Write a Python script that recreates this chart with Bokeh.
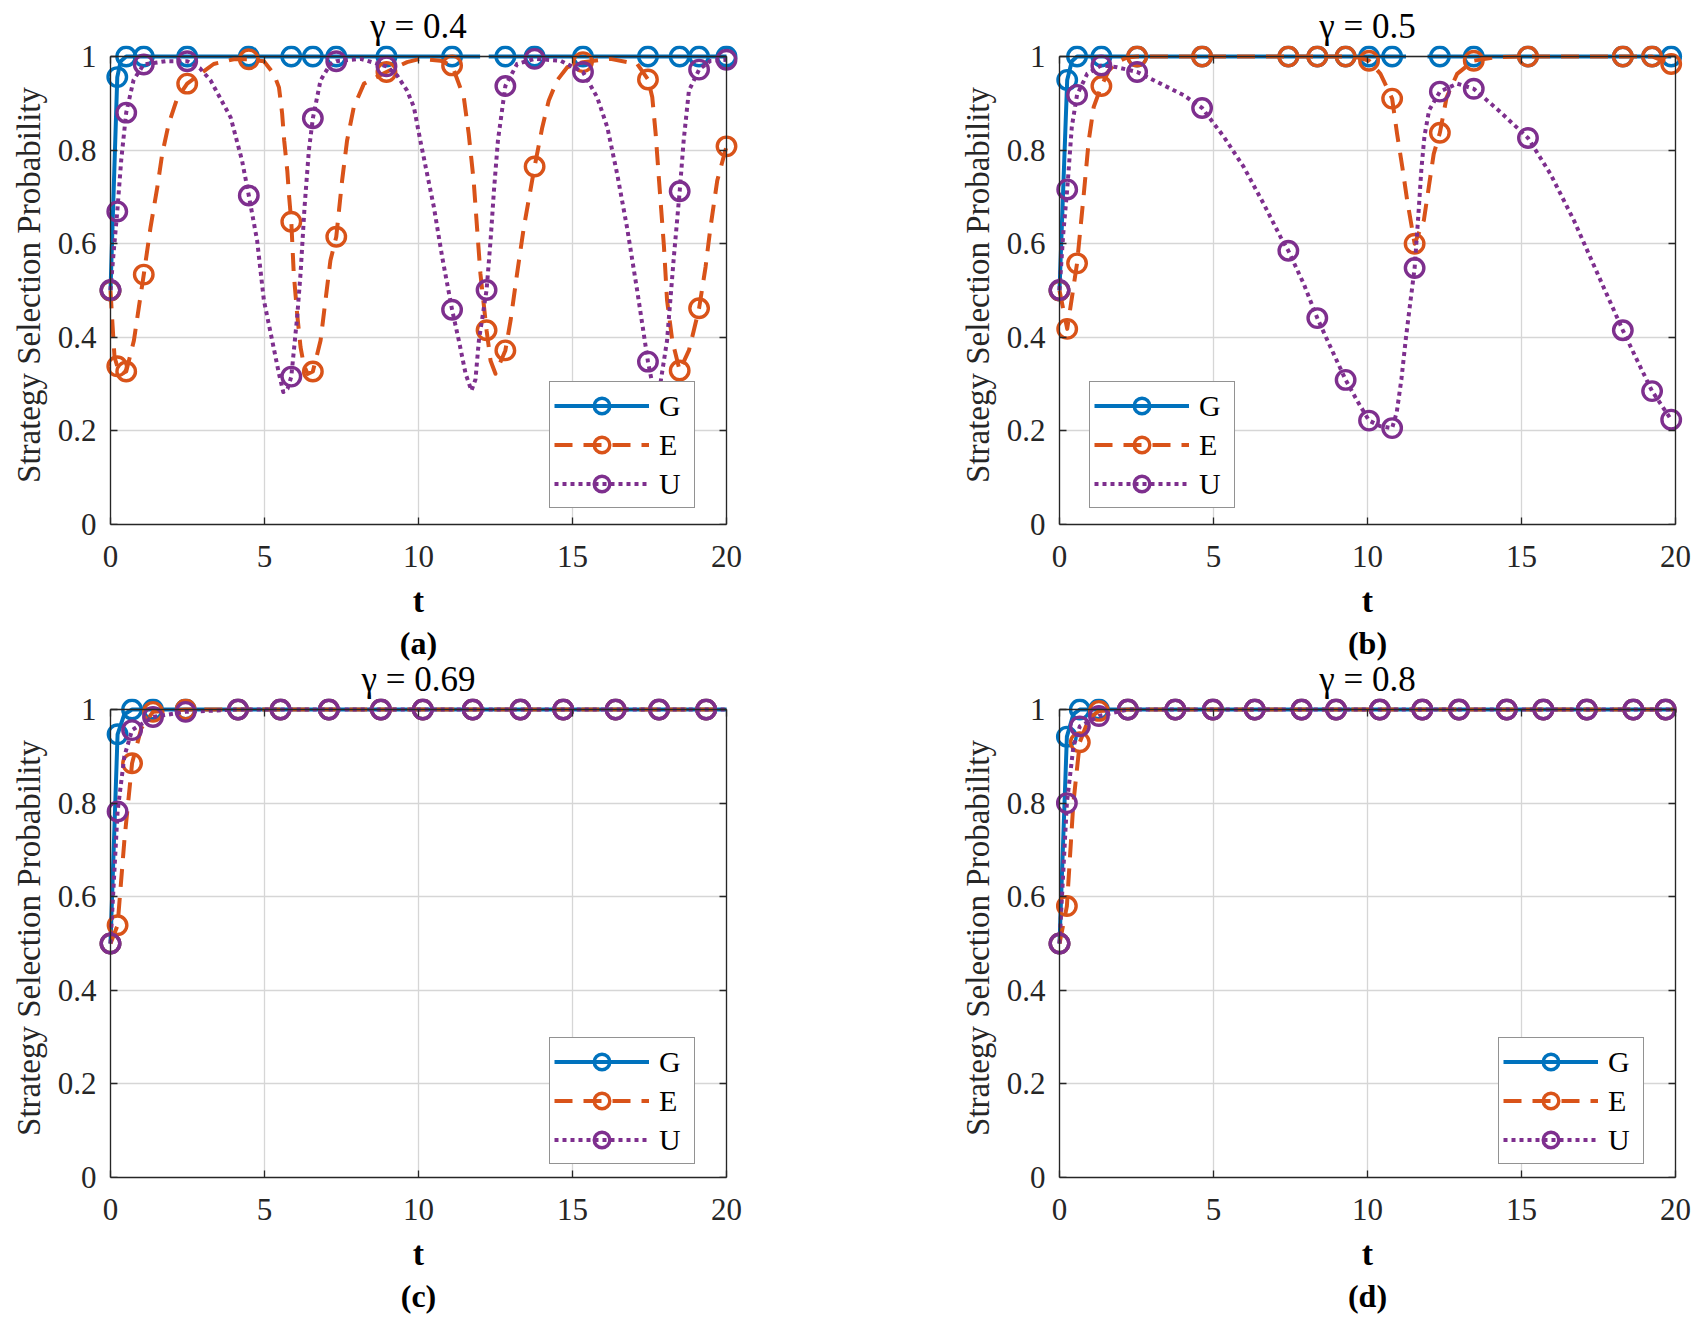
from bokeh.plotting import figure
from bokeh.models import (Range1d, LinearAxis, FixedTicker, CustomJSTickFormatter,
                          Legend, LegendItem, Title)
from bokeh.layouts import column, row
from bokeh.embed import file_html
from bokeh.resources import INLINE

NAN = float("nan")

# ---------------- data ----------------
SERIES = ["G", "E", "U"]
TITLES = ["γ = 0.4", "γ = 0.5", "γ = 0.69", "γ = 0.8"]
TAGS = ["(a)", "(b)", "(c)", "(d)"]
X_TICKS = [0, 5, 10, 15, 20]
Y_TICKS = [0, 0.2, 0.4, 0.6, 0.8, 1]
X_LABEL = "t"
Y_LABEL = "Strategy Selection Probability"

# panel (a)  gamma = 0.4
A_MARK_T = [0, 0.22, 0.51, 1.08, 2.49, 4.49, 5.87, 6.57, 7.33, 8.96, 11.09, 12.21, 12.82, 13.77, 15.34, 17.45, 18.48, 19.11, 20.0]
A_G_MARK = [0.5, 0.956, 1.0, 1.0, 1.0, 1.0, 1.0, 1.0, 1.0, 1.0, 1.0, NAN, 1.0, 1.0, 1.0, 1.0, 1.0, 1.0, 1.0]
A_E_MARK = [0.5, 0.338, 0.327, 0.534, 0.942, 0.994, 0.647, 0.327, 0.615, 0.967, 0.981, 0.415, 0.372, 0.765, 0.988, 0.951, 0.329, 0.462, 0.808]
A_U_MARK = [0.501, 0.669, 0.880, 0.983, 0.990, 0.703, 0.316, 0.868, 0.990, 0.979, 0.459, 0.501, 0.937, 0.995, 0.967, 0.348, 0.712, 0.972, 0.993]

A_G_T = [0, 0.22, 0.33, 0.51, 12.0, NAN, 12.28, 20.0]
A_G_V = [0.5, 0.956, 0.99, 1.0, 1.0, NAN, 1.0, 1.0]
A_E_T = [0, 0.05, 0.13, 0.22, 0.35, 0.51, 0.76, 0.92, 1.08, 1.30, 1.52, 1.68, 1.89, 2.16, 2.49, 2.92, 3.35, 4.0, 4.49,
         4.98, 5.30, 5.47, 5.57, 5.64, 5.74, 5.80, 5.87, 5.95, 6.06, 6.17, 6.28, 6.40, 6.57, 6.82, 6.98, 7.14, 7.33,
         7.52, 7.68, 7.90, 8.23, 8.96, 9.63, 10.06, 10.71, 11.09, 11.47, 11.63, 11.79, 11.90, 12.01, 12.21, 12.34,
         12.50, 12.82, 12.99, 13.20, 13.42, 13.77, 14.02, 14.23, 14.50, 14.83, 15.34, 16.23, 17.10, 17.45, 17.59,
         17.70, 17.81, 17.97, 18.07, 18.24, 18.48, 18.78, 18.94, 19.11, 19.32, 19.48, 19.70, 20.0]
A_E_V = [0.5, 0.443, 0.358, 0.338, 0.322, 0.327, 0.393, 0.464, 0.534, 0.635, 0.721, 0.792, 0.856, 0.910, 0.942, 0.963,
         0.984, 0.994, 0.994, 0.990, 0.963, 0.934, 0.880, 0.820, 0.756, 0.700, 0.647, 0.536, 0.450, 0.379, 0.340,
         0.322, 0.327, 0.393, 0.479, 0.564, 0.615, 0.735, 0.820, 0.892, 0.942, 0.967, 0.988, 0.995, 0.991, 0.981,
         0.913, 0.835, 0.735, 0.635, 0.536, 0.415, 0.350, 0.322, 0.372, 0.436, 0.536, 0.635, 0.765, 0.849, 0.906,
         0.949, 0.977, 0.988, 0.995, 0.984, 0.951, 0.913, 0.835, 0.735, 0.593, 0.479, 0.393, 0.329, 0.372, 0.415,
         0.462, 0.550, 0.635, 0.735, 0.808]
A_U_T = [0, 0.10, 0.22, 0.35, 0.51, 0.75, 1.08, 1.80, 2.49, 2.90, 3.25, 3.90, 4.27, 4.49, 4.76, 4.98, 5.25, 5.47,
         5.61, 5.75, 5.87, 6.06, 6.17, 6.30, 6.44, 6.57, 6.82, 7.14, 7.33, 8.12, 8.96, 9.30, 9.63, 9.85, 10.06,
         10.28, 10.50, 10.77, 11.09, 11.31, 11.53, 11.72, 11.85, 11.96, 12.21, 12.34, 12.45, 12.58, 12.82, 13.20,
         13.77, 14.61, 15.34, 15.80, 16.13, 16.45, 16.77, 17.10, 17.45, 17.59, 17.70, 17.85, 18.07, 18.29, 18.48,
         18.61, 18.78, 19.11, 19.48, 20.0]
A_U_V = [0.501, 0.58, 0.669, 0.78, 0.880, 0.95, 0.983, 0.99, 0.990, 0.975, 0.949, 0.870, 0.778, 0.703, 0.607, 0.479,
         0.393, 0.322, 0.283, 0.290, 0.316, 0.443, 0.536, 0.678, 0.799, 0.868, 0.949, 0.984, 0.990, 0.995, 0.979,
         0.960, 0.927, 0.892, 0.820, 0.749, 0.678, 0.571, 0.459, 0.393, 0.322, 0.286, 0.310, 0.393, 0.501, 0.607,
         0.714, 0.821, 0.937, 0.984, 0.995, 0.991, 0.967, 0.913, 0.849, 0.749, 0.635, 0.500, 0.348, 0.301, 0.290,
         0.300, 0.393, 0.571, 0.712, 0.821, 0.927, 0.972, 0.991, 0.993]

# panel (b)  gamma = 0.5
B_MARK_T = [0, 0.25, 0.57, 1.36, 2.52, 4.63, 7.43, 8.37, 9.29, 10.05, 10.80, 11.53, 12.35, 13.45, 15.21, 18.29, 19.24, 19.86]
B_G_MARK = [0.5, 0.950, 1.0, 1.0, 1.0, 1.0, 1.0, 1.0, 1.0, 1.0, 1.0, NAN, 1.0, 1.0, 1.0, 1.0, 1.0, 1.0]
B_E_MARK = [0.5, 0.418, 0.558, 0.937, 1.0, 1.0, 1.0, 1.0, 1.0, 0.991, 0.910, 0.600, 0.837, 0.991, 1.0, 1.0, 1.0, 0.984]
B_U_MARK = [0.501, 0.716, 0.918, 0.981, 0.967, 0.890, 0.585, 0.441, 0.309, 0.222, 0.206, 0.548, 0.925, 0.931, 0.826, 0.415, 0.285, 0.224]

B_G_T = [0, 0.25, 0.40, 0.57, 11.25, NAN, 11.95, 19.86]
B_G_V = [0.5, 0.950, 0.99, 1.0, 1.0, NAN, 1.0, 1.0]
B_E_T = [0, 0.25, 0.57, 0.79, 0.95, 1.11, 1.36, 1.60, 1.87, 2.20, 2.52, 4.63, 7.43, 8.37, 9.29, 9.70, 10.05, 10.42,
         10.80, 10.96, 11.13, 11.29, 11.53, 11.83, 11.99, 12.15, 12.35, 12.57, 12.91, 13.45, 14.20, 15.21, 18.29,
         19.24, 19.86]
B_E_V = [0.5, 0.418, 0.558, 0.707, 0.821, 0.892, 0.937, 0.970, 0.988, 0.998, 1.0, 1.0, 1.0, 1.0, 1.0, 0.998, 0.991,
         0.963, 0.910, 0.835, 0.764, 0.692, 0.600, 0.650, 0.721, 0.792, 0.837, 0.913, 0.963, 0.991, 0.999, 1.0, 1.0,
         1.0, 0.984]
B_U_T = [0, 0.12, 0.25, 0.40, 0.57, 0.90, 1.36, 1.87, 2.52, 3.28, 4.04, 4.63, 5.34, 5.98, 6.63, 7.18, 7.43, 7.93,
         8.37, 8.80, 9.29, 9.66, 10.05, 10.42, 10.80, 10.95, 11.10, 11.25, 11.40, 11.53, 11.65, 11.75, 11.85, 12.00,
         12.35, 12.91, 13.45, 14.32, 15.21, 15.94, 16.70, 17.57, 18.29, 18.76, 19.24, 19.86]
B_U_V = [0.501, 0.62, 0.716, 0.85, 0.918, 0.963, 0.981, 0.977, 0.967, 0.942, 0.917, 0.890, 0.828, 0.764, 0.685,
         0.614, 0.585, 0.514, 0.441, 0.379, 0.309, 0.265, 0.222, 0.210, 0.206, 0.240, 0.310, 0.400, 0.480, 0.548,
         0.660, 0.760, 0.830, 0.885, 0.925, 0.942, 0.931, 0.881, 0.826, 0.749, 0.650, 0.521, 0.415, 0.350, 0.285,
         0.224]

# panel (c)  gamma = 0.69
C_MARK_T = [0, 0.23, 0.70, 1.38, 2.44, 4.14, 5.52, 7.09, 8.78, 10.14, 11.76, 13.31, 14.70, 16.40, 17.81, 19.34]
C_G_MARK = [0.5, 0.947, 1.0, 1.0, 1.0, 1.0, 1.0, 1.0, 1.0, 1.0, 1.0, 1.0, 1.0, 1.0, 1.0, 1.0]
C_E_MARK = [0.5, 0.539, 0.885, 0.995, 1.0, 1.0, 1.0, 1.0, 1.0, 1.0, 1.0, 1.0, 1.0, 1.0, 1.0, 1.0]
C_U_MARK = [0.5, 0.782, 0.956, 0.984, 0.995, 1.0, 1.0, 1.0, 1.0, 1.0, 1.0, 1.0, 1.0, 1.0, 1.0, 1.0]
C_G_T = [0, 0.23, 0.45, 0.70, 20.0]
C_G_V = [0.5, 0.947, 0.99, 1.0, 1.0]
C_E_T = [0, 0.23, 0.45, 0.70, 1.0, 1.38, 2.44, 20.0]
C_E_V = [0.5, 0.539, 0.72, 0.885, 0.96, 0.995, 1.0, 1.0]
C_U_T = [0, 0.23, 0.45, 0.70, 1.38, 2.44, 4.14, 20.0]
C_U_V = [0.5, 0.782, 0.90, 0.956, 0.984, 0.995, 1.0, 1.0]

# panel (d)  gamma = 0.8
D_MARK_T = [0, 0.24, 0.66, 1.28, 2.22, 3.76, 4.98, 6.34, 7.86, 8.98, 10.40, 11.78, 12.97, 14.52, 15.71, 17.12, 18.63, 19.68]
D_G_MARK = [0.5, 0.942, 1.0, 1.0, 1.0, 1.0, 1.0, 1.0, 1.0, 1.0, 1.0, 1.0, 1.0, 1.0, 1.0, 1.0, 1.0, 1.0]
D_E_MARK = [0.5, 0.580, 0.930, 0.997, 1.0, 1.0, 1.0, 1.0, 1.0, 1.0, 1.0, 1.0, 1.0, 1.0, 1.0, 1.0, 1.0, 1.0]
D_U_MARK = [0.5, 0.800, 0.964, 0.986, 1.0, 1.0, 1.0, 1.0, 1.0, 1.0, 1.0, 1.0, 1.0, 1.0, 1.0, 1.0, 1.0, 1.0]
D_G_T = [0, 0.24, 0.45, 0.66, 20.0]
D_G_V = [0.5, 0.942, 0.99, 1.0, 1.0]
D_E_T = [0, 0.24, 0.45, 0.66, 0.95, 1.28, 2.22, 20.0]
D_E_V = [0.5, 0.580, 0.80, 0.930, 0.98, 0.997, 1.0, 1.0]
D_U_T = [0, 0.24, 0.45, 0.66, 1.28, 2.22, 20.0]
D_U_V = [0.5, 0.800, 0.92, 0.964, 0.986, 1.0, 1.0]

# ---------------- styling ----------------
FONT = "Liberation Serif"
AX = "#262626"
GRID = "#d6d6d6"
COLORS = {"G": "#0072BD", "E": "#D95319", "U": "#7E2F8E"}
DASHES = {"G": "solid", "E": "18 11", "U": "4 4"}
PADX = 14                # px of room left/right of the box so edge markers are not cut
PADTOP = 11              # px of room above the box
BOX_W, BOX_H = 616, 468  # axes box size in px
XPAD = PADX * 20.0 / BOX_W
YPAD = PADTOP * 1.0 / BOX_H
FRAME_W = BOX_W + 2 * PADX
FRAME_H = BOX_H + PADTOP

EMPTY = CustomJSTickFormatter(code="return ''")
YFMT = CustomJSTickFormatter(code="return String(Math.round(tick*10)/10)")
XFMT = CustomJSTickFormatter(code="return String(Math.round(tick))")


def frame_axis(p, side, loc, bounds, ticks):
    ax = LinearAxis(fixed_location=loc, bounds=bounds, ticker=FixedTicker(ticks=ticks),
                    formatter=EMPTY, axis_line_color=AX, axis_line_width=1.3,
                    major_tick_in=7, major_tick_out=0, major_tick_line_color=AX, major_tick_line_width=1.3,
                    minor_tick_line_color=None, major_label_text_font_size="1px", major_label_standoff=0)
    p.add_layout(ax, side)


def build(i, data, fig_w, fig_h, b_left, b_right, b_top, leg_x, leg_y):
    p = figure(width=fig_w, height=fig_h, output_backend="svg", toolbar_location=None,
               x_range=Range1d(-XPAD, 20 + XPAD), y_range=Range1d(0, 1 + YPAD),
               min_border_left=b_left, min_border_right=b_right, min_border_top=b_top,
               min_border_bottom=fig_h - b_top - FRAME_H,
               title=TITLES[i])
    p.outline_line_color = None
    p.background_fill_color = "white"
    p.border_fill_color = None

    p.title.align = "center"
    p.title.text_font = FONT
    p.title.text_font_size = "35px"
    p.title.text_font_style = "normal"
    p.title.text_color = "black"
    p.title.standoff = 0

    xa = p.xaxis[0]
    xa.ticker = FixedTicker(ticks=X_TICKS)
    xa.formatter = XFMT
    xa.bounds = (0, 20)
    xa.axis_line_color = AX
    xa.axis_line_width = 1.3
    xa.major_tick_in = 7
    xa.major_tick_out = 0
    xa.major_tick_line_color = AX
    xa.major_tick_line_width = 1.3
    xa.minor_tick_line_color = None
    xa.major_label_text_font = FONT
    xa.major_label_text_font_size = "31px"
    xa.major_label_text_color = AX
    xa.major_label_standoff = 21
    xa.axis_label = X_LABEL
    xa.axis_label_text_font = FONT
    xa.axis_label_text_font_size = "34px"
    xa.axis_label_text_font_style = "bold"
    xa.axis_label_text_color = "black"
    xa.axis_label_standoff = 12

    ya = p.yaxis[0]
    ya.ticker = FixedTicker(ticks=Y_TICKS)
    ya.formatter = YFMT
    ya.bounds = (0, 1)
    ya.axis_line_color = None
    ya.major_tick_line_color = None
    ya.minor_tick_line_color = None
    ya.major_label_text_font = FONT
    ya.major_label_text_font_size = "31px"
    ya.major_label_text_color = AX
    ya.major_label_standoff = -6
    ya.axis_label = Y_LABEL
    ya.axis_label_text_font = FONT
    ya.axis_label_text_font_size = "33px"
    ya.axis_label_text_font_style = "normal"
    ya.axis_label_text_color = AX
    ya.axis_label_standoff = 8

    frame_axis(p, "left", 0, (0, 1), Y_TICKS)
    frame_axis(p, "right", 20, (0, 1), Y_TICKS)
    frame_axis(p, "above", 1, (0, 20), X_TICKS)

    p.xgrid.ticker = FixedTicker(ticks=X_TICKS)
    p.ygrid.ticker = FixedTicker(ticks=Y_TICKS)
    for g in (p.xgrid, p.ygrid):
        g.grid_line_color = GRID
        g.grid_line_width = 1.3
    try:
        p.xgrid.cross_bounds = (0, 1)
        p.ygrid.cross_bounds = (0, 20)
    except Exception:
        pass

    p.add_layout(Title(text=TAGS[i], align="center", text_font=FONT, text_font_size="32px",
                       text_font_style="bold", text_color="black", standoff=2), "below")

    items = []
    for s in SERIES:
        lt, lv, mt, mv = data[s]
        lr = p.line(lt, lv, line_color=COLORS[s], line_width=4.0, line_dash=DASHES[s], line_join="round")
        mr = p.scatter(mt, mv, marker="circle", size=18.5, fill_color=None,
                       line_color=COLORS[s], line_width=3.4)
        items.append(LegendItem(label=s, renderers=[lr, mr]))

    leg = Legend(items=items, location=(leg_x, leg_y), orientation="vertical",
                 glyph_width=95, glyph_height=39, spacing=0, padding=4, margin=0,
                 label_standoff=10, label_width=31,
                 label_text_font=FONT, label_text_font_size="30px", label_text_color="black",
                 border_line_color=AX, border_line_width=1.2, background_fill_color="white",
                 background_fill_alpha=1.0)
    p.add_layout(leg)
    return p


DATA = [
    {"G": (A_G_T, A_G_V, A_MARK_T, A_G_MARK), "E": (A_E_T, A_E_V, A_MARK_T, A_E_MARK),
     "U": (A_U_T, A_U_V, A_MARK_T, A_U_MARK)},
    {"G": (B_G_T, B_G_V, B_MARK_T, B_G_MARK), "E": (B_E_T, B_E_V, B_MARK_T, B_E_MARK),
     "U": (B_U_T, B_U_V, B_MARK_T, B_U_MARK)},
    {"G": (C_G_T, C_G_V, C_MARK_T, C_G_MARK), "E": (C_E_T, C_E_V, C_MARK_T, C_E_MARK),
     "U": (C_U_T, C_U_V, C_MARK_T, C_U_MARK)},
    {"G": (D_G_T, D_G_V, D_MARK_T, D_G_MARK), "E": (D_E_T, D_E_V, D_MARK_T, D_E_MARK),
     "U": (D_U_T, D_U_V, D_MARK_T, D_U_MARK)},
]

# layout: boxes at x 110-726 / 1059-1675, y 56-524 / 709-1177 on the page
W_LEFT, W_RIGHT = 949, 755
H_TOP, H_BOT = 684, 672
OVERLAP = 31  # lower row starts at y = 653 so its frame top is at 698

pa = build(0, DATA[0], W_LEFT, H_TOP, 96, W_LEFT - 96 - FRAME_W, 45, 453, 16)
pb = build(1, DATA[1], W_RIGHT, H_TOP, 96, W_RIGHT - 96 - FRAME_W, 45, 44, 16)
pc = build(2, DATA[2], W_LEFT, H_BOT, 96, W_LEFT - 96 - FRAME_W, 45, 453, 13)
pd = build(3, DATA[3], W_RIGHT, H_BOT, 96, W_RIGHT - 96 - FRAME_W, 45, 453, 13)

layout = column(row(pa, pb), row(pc, pd, margin=(-OVERLAP, 0, 0, 0)))
open("out.html", "w").write(file_html(layout, INLINE))
